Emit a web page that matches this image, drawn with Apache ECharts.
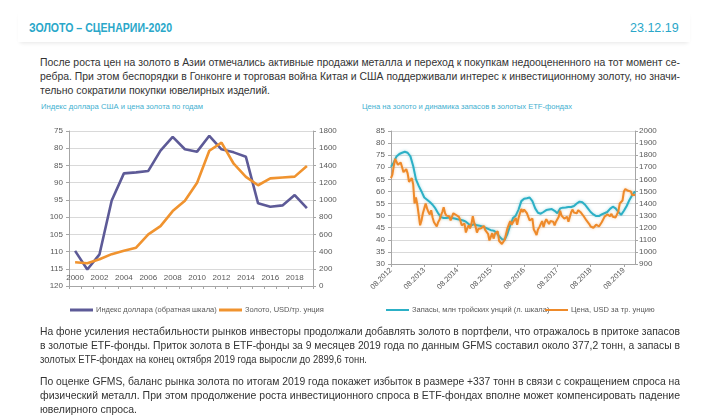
<!DOCTYPE html>
<html><head><meta charset="utf-8">
<script src="https://cdn.jsdelivr.net/npm/echarts@6/dist/echarts.min.js"></script>
<style>
body{margin:0;width:707px;height:418px;background:#fff;overflow:hidden;position:relative;font-family:"Liberation Sans",sans-serif;}
#chart{position:absolute;left:0;top:0;width:707px;height:418px;}
.hdr{position:absolute;left:18px;top:10px;width:672px;height:32px;box-shadow:0 3px 4px -2px rgba(0,0,0,0.10);background:#fff;}
.h1{position:absolute;left:29px;top:20px;font-size:12.5px;font-weight:bold;color:#2aa7c9;line-height:16px;white-space:nowrap;}
.dt{position:absolute;left:630px;top:20px;font-size:12.5px;color:#2aa7c9;line-height:16px;white-space:nowrap;}
.ln{position:absolute;left:40px;font-size:10.5px;color:#333;line-height:14px;white-space:nowrap;}
.ct{position:absolute;top:101px;font-size:8px;color:#3fb0d0;line-height:11px;white-space:nowrap;}
</style></head>
<body>
<div class="hdr"></div>
<div class="h1 fit" data-w="143">ЗОЛОТО – СЦЕНАРИИ-2020</div>
<div class="dt fit" data-w="50">23.12.19</div>
<div class="ln fit just" data-w="640" style="top:55px">После роста цен на золото в Азии отмечались активные продажи металла и переход к покупкам недооцененного на тот момент се-</div>
<div class="ln fit just" data-w="640" style="top:69px">ребра. При этом беспорядки в Гонконге и торговая война Китая и США поддерживали интерес к инвестиционному золоту, но значи-</div>
<div class="ln fit" data-w="230" style="top:83px">тельно сократили покупки ювелирных изделий.</div>
<div class="ct fit" data-w="162" style="left:41px">Индекс доллара США и цена золота по годам</div>
<div class="ct fit" data-w="210" style="left:362px">Цена на золото и динамика запасов в золотых ETF-фондах</div>
<div id="chart"></div>
<div class="ln fit just" data-w="640" style="top:324px">На фоне усиления нестабильности рынков инвесторы продолжали добавлять золото в портфели, что отражалось в притоке запасов</div>
<div class="ln fit just" data-w="640" style="top:338px">в золотые ETF-фонды. Приток золота в ETF-фонды за 9 месяцев 2019 года по данным GFMS составил около 377,2 тонн, а запасы в</div>
<div class="ln fit" data-w="327" style="top:352px">золотых ETF-фондах на конец октября 2019 года выросли до 2899,6 тонн.</div>
<div class="ln fit just" data-w="640" style="top:374px">По оценке GFMS, баланс рынка золота по итогам 2019 года покажет избыток в размере +337 тонн в связи с сокращением спроса на</div>
<div class="ln fit just" data-w="640" style="top:388px">физический металл. При этом продолжение роста инвестиционного спроса в ETF-фондах вполне может компенсировать падение</div>
<div class="ln fit" data-w="97" style="top:402px">ювелирного спроса.</div>
<script>
// ---- Left chart data (yearly) ----
const years = ['2000','2001','2002','2003','2004','2005','2006','2007','2008','2009','2010','2011','2012','2013','2014','2015','2016','2017','2018','2019'];
const dollarIndex = [109.8,115.2,110.8,95.2,87.3,87.0,86.6,80.7,76.7,80.3,81.0,76.4,80.3,81.2,82.5,96.0,97.0,96.6,93.6,97.4];
const goldYearly = [275,265,310,370,410,445,600,695,870,990,1200,1571,1664,1420,1268,1170,1250,1260,1270,1393];
const leftNames = ['Индекс доллара (обратная шкала)','Золото, USD/тр. унция'];

// ---- Right chart data: ETF holdings monthly (08.2012 .. 12.2019), mln oz ----
const etfHoldings = [
 70.2,72,74.5,75.5,76,76.4,76,74.5,70.5,65,62.3,60,
 57.5,56.6,55.6,54.5,53,51,49.4,49,49,49.2,49,48.8,
 48.5,48.3,48,47.5,46.5,46,46.5,46,45.8,45.5,45,44.5,
 44,43.8,43,41.5,40.3,40,42.5,46,49,50,52.5,56,
 57,57.2,57.5,56,53,51.2,50.8,51.5,52.3,52.5,52.7,52,
 51,53,53.3,53.4,53.6,53.6,54,55,55.8,55.5,54.5,53,
 51.5,50.5,49.8,49.8,50.5,51,51.5,52.8,53.7,53,51.5,50.3,
 52,54,56.5,58.5,60];
// Gold price, half-monthly (08.2012 .. 12.2019), USD/oz
const goldPrice = [
 1610,1640,1710,1770,1780,1720,1730,1740,1700,1660,
 1670,1685,1650,1580,1590,1610,1560,1400,1450,1390,1380,1220,1260,1320,1320,1400,1360,1330,1310,1345,1285,1245,1230,1210,
 1245,1265,1300,1330,1370,1320,1300,1295,1295,1260,1255,1320,1330,1305,1310,1290,1260,1220,1225,1235,1160,1195,1220,1195,
 1230,1295,1240,1210,1160,1190,1200,1195,1185,1215,1180,1175,1150,1095,1110,1155,1110,1150,1165,1170,1090,1075,1065,1065,
 1100,1115,1195,1225,1255,1225,1245,1260,1280,1225,1280,1320,1355,1330,1350,1335,1320,1335,1260,1265,1275,1185,1165,1140,
 1185,1205,1230,1255,1205,1245,1270,1270,1230,1255,1270,1250,1220,1250,1270,1290,1340,1300,1295,1275,1280,1290,1250,1265,
 1330,1350,1325,1330,1320,1345,1340,1325,1315,1295,1300,1260,1255,1230,1210,1195,1200,1200,1225,1230,1210,1225,1245,1260,
 1290,1300,1310,1325,1295,1315,1290,1275,1285,1280,1335,1400,1410,1425,1500,1520,1510,1505,1490,1500,1470,1465,
 1470];
const rightNames = ['Запасы, млн тройских унций (л. шкала)','Цена, USD за тр. унцию'];
const stepsPerYear = 24; // half-months per year on the right x axis
const firstYear = 2012;

// ---- fit text lines to the reference widths ----
document.querySelectorAll('.fit').forEach(el=>{
  const target = +el.dataset.w;
  const w = el.getBoundingClientRect().width;
  const spaces = (el.textContent.match(/ /g)||[]).length;
  if (w > target) {
    el.style.transformOrigin = '0 0';
    el.style.transform = 'scaleX(' + (target / w) + ')';
  } else if (el.classList.contains('just') && spaces) {
    el.style.wordSpacing = ((target - w) / spaces) + 'px';
  }
});

const C_PURPLE = '#5d5a97', C_ORANGE = '#f0932f', C_TEAL = '#2cb0c6', C_ORANGE2 = '#ee8a2a';
const axisGray = '#a6a6a6', labelGray = '#595959', gridGray = '#d9d9d9';
const FONT = '"Liberation Sans", sans-serif';

const chart = echarts.init(document.getElementById('chart'), null, {renderer:'canvas'});
function yAx(o){
  return Object.assign({
    axisLine:{show:true,lineStyle:{color:axisGray}},
    axisTick:{show:true,length:3,lineStyle:{color:axisGray}},
    axisLabel:{color:labelGray,fontSize:8,fontFamily:FONT,margin:6,formatter:v=>String(v)},
    splitLine:{show:false}
  }, o);
}
function leg(name, left, top, h){
  return {data:[name], left:left, top:top, itemWidth:23, itemHeight:h, itemGap:0, padding:0,
    icon:'rect',
    textStyle:{color:labelGray,fontSize:7.5,fontFamily:FONT,padding:[0,0,0,-2]}};
}
chart.setOption({
  animation:false,
  textStyle:{fontFamily:FONT},
  grid:[
    {left:69, top:131, width:244, height:155},
    {left:391, top:131, width:244, height:133}
  ],
  legend:[
    leg(leftNames[0],70,306,3), leg(leftNames[1],219,306,3),
    leg(rightNames[0],386,306,2), leg(rightNames[1],545,306,2)
  ],
  xAxis:[
    {type:'category', gridIndex:0, data:years, boundaryGap:true,
     axisLine:{onZero:false,lineStyle:{color:axisGray}},
     axisTick:{show:true,interval:0,length:3,lineStyle:{color:axisGray}},
     axisLabel:{inside:true,interval:1,color:labelGray,fontSize:8,margin:4}},
    {type:'value', gridIndex:1, min:0, max:176, interval:stepsPerYear,
     axisLine:{onZero:false,lineStyle:{color:axisGray}},
     axisTick:{show:true,length:3,lineStyle:{color:axisGray}},
     splitLine:{show:false},
     axisLabel:{rotate:45,color:labelGray,fontSize:7.5,margin:5,showMaxLabel:false,
       formatter:v=> (v%stepsPerYear===0 ? '08.'+(firstYear+v/stepsPerYear) : '')}}
  ],
  yAxis:[
    yAx({type:'value', gridIndex:0, inverse:true, min:75, max:120, interval:5, position:'left',
      splitLine:{show:true,lineStyle:{color:gridGray}}}),
    yAx({type:'value', gridIndex:0, min:0, max:1800, interval:200, position:'right'}),
    yAx({type:'value', gridIndex:1, min:30, max:85, interval:5, position:'left',
      splitLine:{show:true,lineStyle:{color:gridGray}}}),
    yAx({type:'value', gridIndex:1, min:900, max:2000, interval:100, position:'right',
      axisLabel:{color:labelGray,fontSize:8,fontFamily:FONT,margin:4,formatter:v=>String(v)}})
  ],
  series:[
    {name:leftNames[0], type:'line', xAxisIndex:0, yAxisIndex:0, data:dollarIndex, symbol:'none',
     lineStyle:{color:C_PURPLE,width:2.6}, itemStyle:{color:C_PURPLE}},
    {name:leftNames[1], type:'line', xAxisIndex:0, yAxisIndex:1, data:goldYearly, symbol:'none',
     lineStyle:{color:C_ORANGE,width:2.6}, itemStyle:{color:C_ORANGE}},
    {name:rightNames[0], type:'line', xAxisIndex:1, yAxisIndex:2, data:etfHoldings.map((v,i)=>[2*i,v]), symbol:'none',
     lineStyle:{color:C_TEAL,width:2,shadowBlur:3,shadowColor:'rgba(44,176,198,0.45)'}, itemStyle:{color:C_TEAL}},
    {name:rightNames[1], type:'line', xAxisIndex:1, yAxisIndex:3, data:goldPrice.map((v,i)=>[i,v]), symbol:'none',
     lineStyle:{color:C_ORANGE2,width:2,shadowBlur:3,shadowColor:'rgba(238,138,42,0.45)'}, itemStyle:{color:C_ORANGE2}}
  ]
});
</script>
</body></html>
